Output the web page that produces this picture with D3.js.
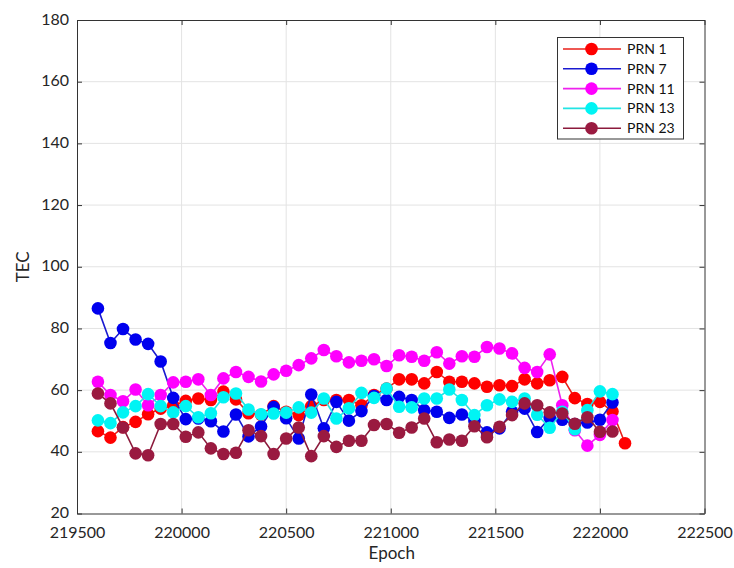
<!DOCTYPE html>
<html><head><meta charset="utf-8">
<script src="https://cdn.jsdelivr.net/npm/d3@7"></script>
<style>body{margin:0;background:#fff;} text{font-family:Lato,"Open Sans",sans-serif;}</style>
</head><body>
<svg id="c" width="734" height="568"></svg>
<script>
const epochs = d3.range(43).map(k => 219600 + 60 * k);
const xTicks = [219500, 220000, 220500, 221000, 221500, 222000, 222500];
const yTicks = [20, 40, 60, 80, 100, 120, 140, 160, 180];
const names = ["PRN 1", "PRN 7", "PRN 11", "PRN 13", "PRN 23"];
const colors = ["#ff0000", "#0000ee", "#ff00ff", "#00f4f4", "#9a1a40"];
const lineColors = ["#e8201a", "#1a1ad0", "#ee22ee", "#22e4e4", "#8c1a3c"];

const prn1 = [46.7,44.6,48,49.7,52.2,54,55,56.5,57.3,56.8,59.5,57,52.5,52,54.8,53.0,51.9,54.8,56.8,56.8,56.8,55.1,58.4,60.5,63.5,63.5,62.2,65.9,62.7,62.7,62.2,61.1,61.6,61.3,63.5,62.2,63.2,64.3,57.4,55.5,56.2,53.1,42.8];
const prn7 = [86.5,75.3,79.8,76.4,75.0,69.3,57.5,50.6,50.8,49.9,46.6,52.1,45.0,48.2,54.5,50.9,44.3,58.6,47.6,56.2,50.1,53.2,58.1,56.8,57.8,56.8,53.5,53.0,51.0,52.1,50,46.3,47.6,53,54,46.4,51,50.4,49,49.5,50.4,56];
const prn11 = [62.7,58.4,56.4,60.2,55.1,58.4,62.5,62.7,63.5,58.4,63.8,65.9,64.3,62.8,65.1,66.3,68.1,70.3,73.0,71.0,69.0,69.5,70.0,67.8,71.3,70.8,69.5,72.3,68.6,71.0,70.8,74.0,73.5,71.9,67.2,65.9,71.6,55.1,47.0,42.0,45.5,50.3];
const prn13 = [50.2,49.3,52.8,54.8,58.7,54.8,52.8,54.8,51.2,52.5,57.7,58.9,53.7,52.2,52.4,52.7,54.4,52.7,57.3,50.8,54.1,59.1,57.5,60.5,54.6,54.4,57.3,57.3,60.2,56.8,51.9,55.1,57.0,56.2,57.3,52.0,47.8,53,47.3,53.5,59.6,58.7];
const prn23 = [58.9,55.7,47.9,39.5,38.9,49.0,49.0,44.9,46.3,41.1,39.3,39.7,47.0,45.1,39.3,44.3,47.9,38.6,45.1,41.6,43.6,43.6,48.7,49.0,46.2,47.9,50.8,43.1,44.0,43.6,48.3,44.7,48.1,51.9,55.7,55.1,52.8,52.4,49.1,51.2,46.5,46.6];
const series = [prn1, prn7, prn11, prn13, prn23];

const L = 77, R = 704.5, T = 20, B = 513.5;
const svg = d3.select("#c");
const x = d3.scaleLinear().domain([219500, 222500]).range([L, R]);
const y = d3.scaleLinear().domain([20, 180]).range([B, T]);

// grid
const g = svg.append("g");
g.selectAll(".gx").data(xTicks.slice(1, -1)).join("line")
  .attr("x1", d => x(d)).attr("x2", d => x(d)).attr("y1", T).attr("y2", B)
  .attr("stroke", "#e3e3e3").attr("stroke-width", 1);
g.selectAll(".gy").data(yTicks.slice(1, -1)).join("line")
  .attr("y1", d => y(d)).attr("y2", d => y(d)).attr("x1", L).attr("x2", R)
  .attr("stroke", "#e3e3e3").attr("stroke-width", 1);

// axes
const ax = "#333";
const xAxis = d3.axisBottom(x).tickValues(xTicks).tickFormat(d3.format("d")).tickSizeInner(-5).tickSizeOuter(0).tickPadding(13);
const yAxis = d3.axisLeft(y).tickValues(yTicks).tickSizeInner(-5).tickSizeOuter(0).tickPadding(8);
const gx = svg.append("g").attr("transform", `translate(0,${B})`).call(xAxis);
const gy = svg.append("g").attr("transform", `translate(${L},0)`).call(yAxis);
const gxt = svg.append("g").attr("transform", `translate(0,${T})`).call(d3.axisTop(x).tickValues(xTicks).tickFormat("").tickSizeInner(-5).tickSizeOuter(0));
const gyr = svg.append("g").attr("transform", `translate(${R},0)`).call(d3.axisRight(y).tickValues(yTicks).tickFormat("").tickSizeInner(-5).tickSizeOuter(0));
[gx, gy, gxt, gyr].forEach(a => {
  a.select(".domain").attr("stroke", ax).attr("stroke-width", 1);
  a.selectAll(".tick line").attr("stroke", ax);
  a.selectAll(".tick text").attr("fill", "#262626").style("font-size", "16px").style("font-family", "Lato, 'Open Sans', sans-serif");
});
gy.selectAll(".tick text").attr("dy", "0.25em");

svg.append("text").attr("x", (L + R) / 2 + 1).attr("y", 559).attr("text-anchor", "middle")
  .style("font-size", "17px").attr("fill", "#262626").text("Epoch");
svg.append("text").attr("transform", `translate(29,${(T + B) / 2}) rotate(-90)`).attr("text-anchor", "middle")
  .style("font-size", "17px").attr("fill", "#262626").text("TEC");

// series
const line = d3.line().x((d, i) => x(epochs[i])).y(d => y(d));
series.forEach((s, si) => {
  const sg = svg.append("g");
  sg.append("path").datum(s).attr("d", line).attr("fill", "none")
    .attr("stroke", lineColors[si]).attr("stroke-width", 1.6);
  sg.selectAll("circle").data(s).join("circle")
    .attr("cx", (d, i) => x(epochs[i])).attr("cy", d => y(d)).attr("r", 6.3)
    .attr("fill", colors[si]);
});

// legend
const lg = svg.append("g");
lg.append("rect").attr("x", 557.5).attr("y", 37.5).attr("width", 126).attr("height", 101.5)
  .attr("fill", "#fff").attr("stroke", "#333").attr("stroke-width", 1);
names.forEach((n, i) => {
  const yy = 49 + i * 19.8;
  lg.append("line").attr("x1", 563).attr("x2", 621).attr("y1", yy).attr("y2", yy)
    .attr("stroke", lineColors[i]).attr("stroke-width", 1.6);
  lg.append("circle").attr("cx", 591.5).attr("cy", yy).attr("r", 6.3).attr("fill", colors[i]);
  lg.append("text").attr("x", 627).attr("y", yy).attr("dy", "0.35em")
    .style("font-size", "14px").attr("fill", "#111").text(n);
});
</script>
</body></html>
